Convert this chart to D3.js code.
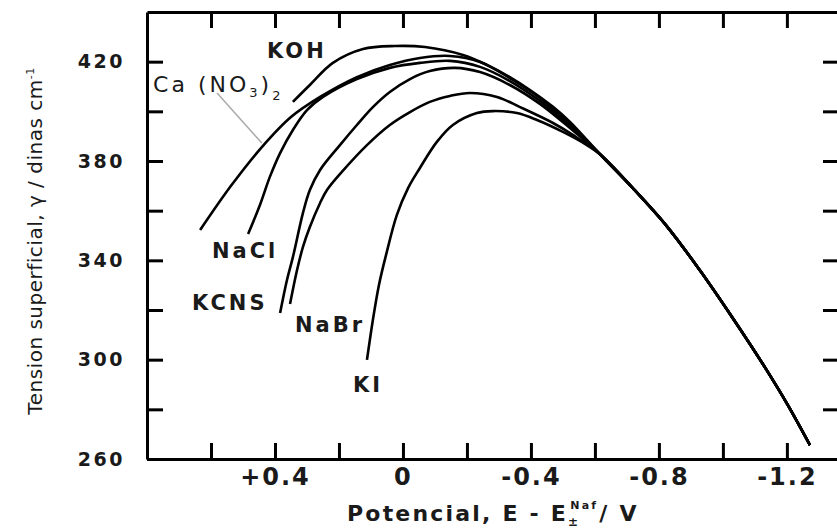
<!DOCTYPE html>
<html>
<head>
<meta charset="utf-8">
<style>
  body { margin: 0; background: #fff; }
  svg { display: block; }
  text { font-family: "DejaVu Sans", sans-serif; fill: #1a1a1a; }
  .axis path, .axis line { stroke: #000; stroke-width: 3; }
</style>
</head>
<body>
<div id="chart"></div>
<script src="https://cdn.jsdelivr.net/npm/d3@7/dist/d3.min.js"></script>
<script>
// ticks and labels
var xTicks = [0.6, 0.4, 0.2, 0, -0.2, -0.4, -0.6, -0.8, -1.0, -1.2];
var xLabels = [0.4, 0, -0.4, -0.8, -1.2];
var yTicks = [260, 280, 300, 320, 340, 360, 380, 400, 420];
var yLabels = [260, 300, 340, 380, 420];

// shared descending branch (all curves merge here)
var tailE = [-0.616, -0.719, -0.825, -0.928, -1.031, -1.131, -1.203, -1.272];
var tailG = [382.7, 369.0, 353.7, 336.0, 316.7, 297.0, 281.7, 265.6];

// one E (V) and gamma (dinas/cm) list per salt
var kohE = [0.344, 0.291, 0.219, 0.125, 0.025, -0.069, -0.1875, -0.2625, -0.334, -0.397, -0.469, -0.522];
var kohG = [403.8, 410.6, 419.5, 425.1, 426.3, 425.9, 422.7, 418.7, 413.8, 408.6, 401.8, 395.7];

var canoE = [0.634, 0.538, 0.441, 0.35, 0.259, 0.144, 0.041, -0.053, -0.147, -0.241, -0.334, -0.428, -0.522];
var canoG = [352.2, 369.9, 385.6, 397.7, 405.8, 413.8, 418.7, 421.5, 422.3, 419.9, 413.4, 405.4, 394.9];

var naclE = [0.484, 0.447, 0.416, 0.384, 0.344, 0.3, 0.25, 0.144, 0.041, -0.053, -0.147, -0.241, -0.334, -0.428, -0.522];
var naclG = [350.6, 362.3, 373.6, 383.2, 392.5, 400.5, 405.8, 413.0, 417.5, 419.5, 420.3, 417.9, 412.2, 404.2, 394.1];

var nabrE = [0.384, 0.3625, 0.344, 0.3125, 0.291, 0.259, 0.197, 0.144, 0.094, 0.041, -0.022, -0.084, -0.1625, -0.241, -0.334, -0.428, -0.522];
var nabrG = [318.8, 332.1, 341.3, 359.1, 368.3, 376.4, 386.4, 394.5, 401.7, 407.8, 413.0, 416.2, 417.5, 415.8, 410.6, 403.0, 393.3];

var kcnsE = [0.353, 0.331, 0.3125, 0.291, 0.259, 0.2375, 0.191, 0.1125, 0.041, -0.022, -0.084, -0.147, -0.209, -0.294, -0.366, -0.469, -0.531];
var kcnsG = [322.4, 336.1, 345.4, 353.4, 363.1, 368.3, 375.6, 386.4, 394.5, 399.7, 403.8, 406.2, 407.4, 405.8, 401.7, 395.3, 390.5];

var kiE = [0.1125, 0.094, 0.075, 0.053, 0.019, -0.016, -0.053, -0.106, -0.156, -0.231, -0.281, -0.356, -0.419, -0.5, -0.575];
var kiG = [299.9, 316.0, 330.1, 342.1, 358.3, 369.1, 377.2, 387.7, 394.5, 399.3, 400.1, 399.3, 396.5, 391.7, 386.4];

var curves = [
  {name: "KOH", E: kohE, G: kohG},
  {name: "Ca(NO3)2", E: canoE, G: canoG},
  {name: "NaCl", E: naclE, G: naclG},
  {name: "NaBr", E: nabrE, G: nabrG},
  {name: "KCNS", E: kcnsE, G: kcnsG},
  {name: "KI", E: kiE, G: kiG}
];

// label anchors in data units
var labelNames = ["KOH", "NaCl", "KCNS", "NaBr", "KI"];
var labelE = [0.425, 0.597, 0.659, 0.3375, 0.156];
var labelG = [421.5, 340.9, 320.0, 311.1, 287.0];
var canoLabel = {E: 0.781, G: 407.8};
var leaderE = [0.581, 0.441];
var leaderG = [407.4, 387.2];

var width = 837, height = 529;

var svg = d3.select("#chart").append("svg")
  .attr("width", width)
  .attr("height", height);

var x = d3.scaleLinear().domain([0.8, -1.366]).range([147, 840]);
var y = d3.scaleLinear().domain([260, 440]).range([459, 12]);

function fmtX(d) {
  if (xLabels.indexOf(d) < 0) return "";
  if (d > 0) return "+" + d.toFixed(1);
  if (d === 0) return "0";
  return "-" + Math.abs(d).toFixed(1);
}

// bottom axis
var gx = svg.append("g").attr("class", "axis")
  .attr("transform", "translate(0,459)")
  .call(d3.axisBottom(x).tickValues(xTicks).tickSize(-16).tickSizeOuter(0)
    .tickPadding(9).tickFormat(fmtX));
gx.selectAll("text").style("font-size", "24px").style("font-weight", "bold")
  .style("letter-spacing", "2px").attr("fill", "#1a1a1a");

// top axis
svg.append("g").attr("class", "axis")
  .attr("transform", "translate(0,12)")
  .call(d3.axisTop(x).tickValues(xTicks).tickSize(-16).tickSizeOuter(0).tickFormat(""));

// left axis
var gy = svg.append("g").attr("class", "axis")
  .attr("transform", "translate(147,0)")
  .call(d3.axisLeft(y).tickValues(yTicks).tickSize(-16).tickSizeOuter(0)
    .tickPadding(22).tickFormat(function(d) { return yLabels.indexOf(d) >= 0 ? d : ""; }));
gy.selectAll("text").style("font-size", "19px").style("font-weight", "bold")
  .style("letter-spacing", "2.5px").attr("fill", "#2a2a2a");

// right axis (frame edge is just off the page)
svg.append("g").attr("class", "axis")
  .attr("transform", "translate(840,0)")
  .call(d3.axisRight(y).tickValues(yTicks.slice(1)).tickSize(-17).tickSizeOuter(0).tickFormat(""));

// curves
var line = d3.line()
  .x(function(d) { return x(d[0]); })
  .y(function(d) { return y(d[1]); })
  .curve(d3.curveCatmullRom.alpha(0.5));

curves.forEach(function(c) {
  var pts = c.E.map(function(e, i) { return [e, c.G[i]]; });
  tailE.forEach(function(e, i) { pts.push([e, tailG[i]]); });
  svg.append("path")
    .datum(pts)
    .attr("d", line)
    .attr("fill", "none")
    .attr("stroke", "#000")
    .attr("stroke-width", 2.6);
});

// curve labels
labelNames.forEach(function(n, i) {
  svg.append("text")
    .attr("x", x(labelE[i]))
    .attr("y", y(labelG[i]))
    .text(n)
    .style("font-size", "21px")
    .style("font-weight", "bold")
    .style("letter-spacing", "3px");
});

var cano = svg.append("text")
  .attr("x", x(canoLabel.E))
  .attr("y", y(canoLabel.G))
  .style("font-size", "22px")
  .style("letter-spacing", "3px")
  .attr("fill", "#333");
cano.append("tspan").text("Ca (NO");
cano.append("tspan").text("3").style("font-size", "13px").attr("dy", 5);
cano.append("tspan").text(")").attr("dy", -5);
cano.append("tspan").text("2").style("font-size", "13px").attr("dy", 8);

svg.append("line")
  .attr("x1", x(leaderE[0])).attr("y1", y(leaderG[0]))
  .attr("x2", x(leaderE[1])).attr("y2", y(leaderG[1]))
  .attr("stroke", "#aaa").attr("stroke-width", 1.5);

// axis titles
var xt = svg.append("text")
  .attr("x", 347).attr("y", 521)
  .style("font-size", "22px")
  .style("font-weight", "bold")
  .style("letter-spacing", "2.2px")
  .attr("fill", "#222");
xt.append("tspan").text("Potencial, E - E");
xt.append("tspan").text("\u00b1").style("font-size", "12px").attr("dy", 5);
xt.append("tspan").text("Naf").style("font-size", "11px").attr("dx", -10).attr("dy", -17);
xt.append("tspan").text("/ V").attr("dx", 1).attr("dy", 12);

var yt = svg.append("text")
  .attr("transform", "rotate(-90)")
  .attr("x", -241).attr("y", 42)
  .attr("text-anchor", "middle")
  .style("font-size", "20px")
  .style("letter-spacing", "0.5px")
  .attr("fill", "#222");
yt.append("tspan").text("Tension superficial, \u03b3 / dinas cm");
yt.append("tspan").text("-1").style("font-size", "11px").attr("dy", -8);
</script>
</body>
</html>
